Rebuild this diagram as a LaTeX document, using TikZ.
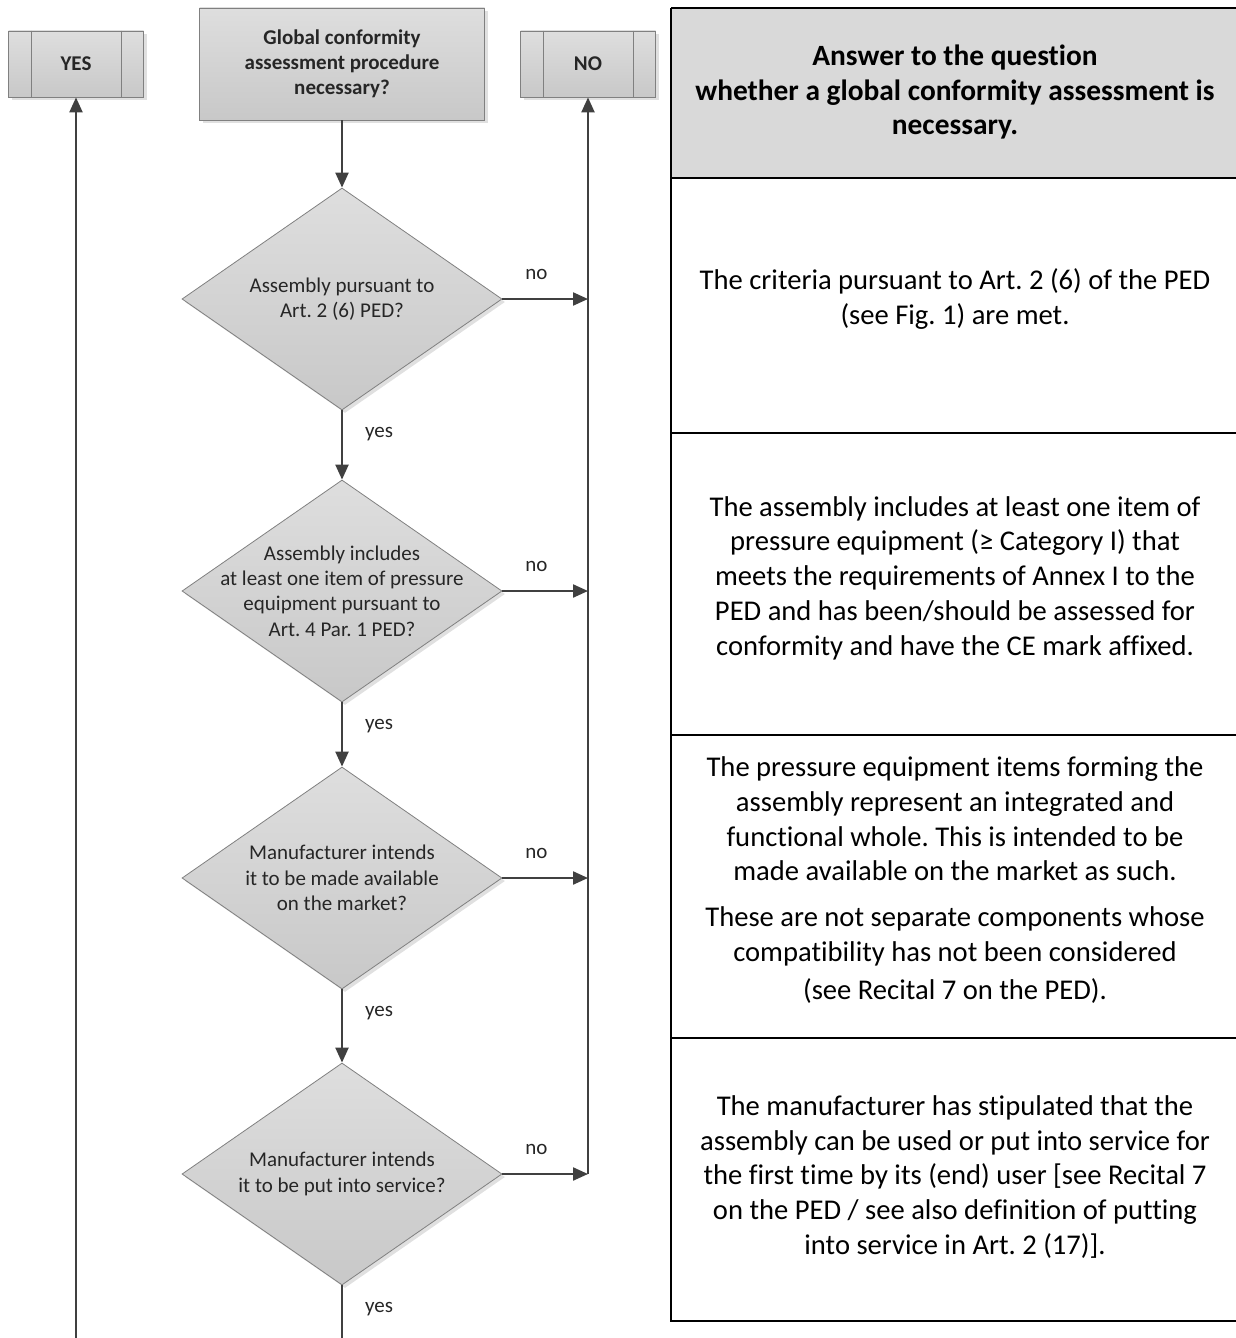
\documentclass[tikz,border=0pt]{standalone}
\usepackage{fontspec}
\setmainfont[Ligatures=NoCommon]{Carlito}
\frenchspacing
\usetikzlibrary{shapes.geometric,arrows.meta,shadows}
\definecolor{boxtop}{RGB}{222,222,222}
\definecolor{boxbot}{RGB}{200,200,200}
\definecolor{boxline}{RGB}{128,128,128}
\definecolor{arrowc}{RGB}{64,64,64}
\definecolor{headfill}{RGB}{217,217,217}
\begin{document}
\begin{tikzpicture}[x=1pt,y=-1pt,
  flowshape/.style={draw=boxline, line width=0.8pt, top color=boxtop, bottom color=boxbot,
    drop shadow={shadow xshift=3pt, shadow yshift=-3pt, fill=black!12, opacity=1}},
  endbox/.style={flowshape, rectangle, minimum width=135pt, minimum height=66pt, inner sep=0pt,
    font=\fontsize{21}{25}\selectfont\bfseries, text=black!85},
  startbox/.style={flowshape, rectangle, minimum width=285pt, minimum height=112pt, inner sep=0pt,
    align=center, font=\fontsize{21}{25}\selectfont\bfseries, text=black!85},
  dia/.style={flowshape, diamond, minimum width=320pt, minimum height=222pt, inner sep=0pt},
  qtext/.style={align=center, inner sep=0pt, font=\fontsize{21}{25.3}\selectfont, text=black!85},
  lab/.style={inner sep=0pt, font=\fontsize{21}{24}\selectfont, text=black!85},
  arr/.style={draw=arrowc, line width=2.2pt, -{Triangle[length=15pt,width=13pt]}},
  plain/.style={draw=arrowc, line width=2.2pt},
  tline/.style={draw=black, line width=2.6pt},
  ttext/.style={align=center, inner sep=0pt, font=\fontsize{28.6}{34.8}\selectfont, text=black}
]
\useasboundingbox (0,0) rectangle (1236,1338);

% ---- table ----
\fill[headfill] (671,8) rectangle (1250,178);
\draw[tline] (671,8) -- (1250,8);
\draw[tline] (671,8) -- (671,1321) -- (1250,1321);
\draw[tline] (671,178) -- (1250,178);
\draw[tline] (671,433) -- (1250,433);
\draw[tline] (671,735) -- (1250,735);
\draw[tline] (671,1038) -- (1250,1038);

\node[ttext, font=\fontsize{29.4}{34.8}\selectfont\bfseries] (head) at (955,92)
  {Answer to the question\\whether a global conformity assessment is\\necessary.};
\node[ttext] (r1) at (955,299)
  {The criteria pursuant to Art. 2 (6) of the PED\\(see Fig. 1) are met.};
\node[ttext] (r2) at (955,578)
  {The assembly includes at least one item of\\pressure equipment (≥ Category I) that\\meets the requirements of Annex I to the\\PED and has been/should be assessed for\\conformity and have the CE mark affixed.};
\node[ttext] (r3) at (955,880)
  {The pressure equipment items forming the\\assembly represent an integrated and\\functional whole. This is intended to be\\made available on the market as such.\\[11pt]These are not separate components whose\\compatibility has not been considered\\[3pt](see Recital 7 on the PED).};
\node[ttext] (r4) at (955,1177)
  {The manufacturer has stipulated that the\\assembly can be used or put into service for\\the first time by its (end) user [see Recital 7\\on the PED / see also definition of putting\\into service in Art. 2 (17)].};

% ---- flowchart nodes ----
\node[endbox] (yes) at (76,64) {YES};
\node[endbox] (no) at (588,64) {NO};
\node[startbox] (start) at (342,64) {Global conformity\\assessment procedure\\necessary?};
\foreach \b in {yes,no}{
  \draw[boxline, line width=0.8pt] ([xshift=23pt]\b.north west) -- ([xshift=23pt]\b.south west);
  \draw[boxline, line width=0.8pt] ([xshift=-23pt]\b.north east) -- ([xshift=-23pt]\b.south east);
}

\node[dia] (d1) at (342,299) {};
\node[qtext] (d1t) at (d1.center) {Assembly pursuant to\\Art. 2 (6) PED?};
\node[dia] (d2) at (342,591) {};
\node[qtext] (d2t) at (d2.center) {Assembly includes\\at least one item of pressure\\equipment pursuant to\\Art. 4 Par. 1 PED?};
\node[dia] (d3) at (342,878) {};
\node[qtext] (d3t) at (d3.center) {Manufacturer intends\\it to be made available\\on the market?};
\node[dia] (d4) at (342,1174) {};
\node[qtext] (d4t) at (d4.center) {Manufacturer intends\\it to be put into service?};

\coordinate (nobot) at (588,1174);
\coordinate (yesbot) at (76,1350);
\coordinate (mainbot) at (342,1350);

% ---- connectors ----
\draw[arr] (start.south) -- (d1.north);
\draw[arr] (d1.south) -- (d2.north);
\draw[arr] (d2.south) -- (d3.north);
\draw[arr] (d3.south) -- (d4.north);
\draw[plain] (d4.south) -- (mainbot);
\draw[plain] (nobot) -- (588,120);
\draw[arr] (nobot) -- (no.south);
\draw[arr] (yesbot) -- (yes.south);

\foreach \d in {d1,d2,d3,d4}{
  \draw[arr] (\d.east) -- (\d.east -| nobot);
  \node[lab] (\d no) at ([xshift=34pt,yshift=25pt]\d.east) {no};
  \node[lab, anchor=west] (\d yes) at ([xshift=23pt,yshift=-24pt]\d.south) {yes};
}
\end{tikzpicture}
\end{document}
